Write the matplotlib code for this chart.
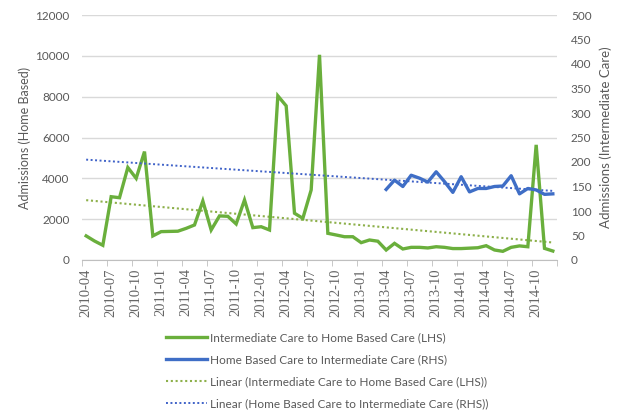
import matplotlib
matplotlib.use('Agg')
import matplotlib.pyplot as plt
import numpy as np

# months 2010-04 .. 2014-12
months = []
for yr in range(2010, 2015):
    for m in range(1, 13):
        if yr == 2010 and m < 4:
            continue
        months.append('%d-%02d' % (yr, m))

# Intermediate Care to Home Based Care (LHS)
ic_to_hb = [1180, 930, 720, 3100, 3050, 4530, 4000, 5310, 1180, 1390,
            1400, 1410, 1550, 1715, 2890, 1470, 2160, 2140, 1765, 2940,
            1585, 1630, 1470, 8040, 7550, 2290, 2040, 3430, 10050, 1307,
            1225, 1140, 1140, 850, 980, 920, 490, 815, 540, 620,
            620, 590, 650, 620, 560, 560, 580, 600, 700, 490,
            425, 620, 690, 650, 5640, 570, 440]

# Home Based Care to Intermediate Care (RHS), from 2013-04
hb_start = 36
hb_to_ic = [144, 163, 150, 173, 167, 159, 180, 160, 138, 170,
            139, 146, 146, 150, 151, 172, 135, 146, 143, 134, 135]

label_green = 'Intermediate Care to Home Based Care (LHS)'
label_blue = 'Home Based Care to Intermediate Care (RHS)'

green = '#6aaf3c'
blue = '#3f6ec6'
grey_txt = '#595959'
lato = 'Lato'

x = np.arange(len(months))
xb = np.arange(hb_start, hb_start + len(hb_to_ic))

# trendlines (linear fits)
pg = np.polyfit(x, ic_to_hb, 1)
pb = np.polyfit(xb, hb_to_ic, 1)

fig = plt.figure(figsize=(6.31, 4.16), dpi=100)
ax = fig.add_axes([82 / 631, 1 - 260 / 416, 475 / 631, 245 / 416])
ax2 = ax.twinx()

l1, = ax.plot(x, ic_to_hb, color=green, lw=2.4, solid_joinstyle='miter', zorder=3)
l3, = ax.plot(x, np.polyval(pg, x), color='#8db04a', lw=1.5, ls=(0, (1, 1.3)), zorder=2)
l2, = ax2.plot(xb, hb_to_ic, color=blue, lw=2.4, zorder=3)
l4, = ax2.plot(x, np.polyval(pb, x), color='#3f62c8', lw=1.4, ls=(0, (1, 1.3)), zorder=2)

ax.set_xlim(-0.5, len(months) - 0.5)
ax.set_ylim(0, 12000)
ax2.set_ylim(0, 500)
ax.set_yticks(np.arange(0, 12001, 2000))
ax2.set_yticks(np.arange(0, 501, 50))
ax.grid(axis='y', color='#d9d9d9', lw=1)
ax.set_axisbelow(True)

ax.set_xticks(x[::3])
ax.set_xticklabels(months[::3], rotation=90, family='Liberation Serif',
                   fontsize=10.5, color='#666666')
ax.set_xticks(np.arange(-0.5, len(months), 3), minor=True)
ax.tick_params(axis='x', which='major', length=0, pad=6)
ax.tick_params(axis='x', which='minor', length=4, color='#bfbfbf')

for a in (ax, ax2):
    for s in a.spines.values():
        s.set_visible(False)
ax.spines['bottom'].set_visible(True)
ax.spines['bottom'].set_color('#bfbfbf')

ax.tick_params(axis='y', length=0, pad=9, labelsize=8.5, labelcolor=grey_txt)
ax2.tick_params(axis='y', length=0, pad=10, labelsize=8.5, labelcolor=grey_txt)
for t in ax.get_yticklabels() + ax2.get_yticklabels():
    t.set_family(lato)

ax.set_ylabel('Admissions (Home Based)', family=lato, fontsize=9, color=grey_txt, labelpad=3)
ax2.set_ylabel('Admissions (Intermediate Care)', family=lato, fontsize=9.5, color=grey_txt, labelpad=6)

leg = fig.legend([l1, l2, l3, l4],
                 [label_green, label_blue, 'Linear (' + label_green + ')', 'Linear (' + label_blue + ')'],
                 loc='upper left', bbox_to_anchor=(160 / 631, 1 - 326 / 416),
                 frameon=False, borderpad=0, handlelength=3.5, handletextpad=0.25,
                 labelspacing=0.95, prop={'family': lato, 'size': 8.5})
for t in leg.get_texts():
    t.set_color(grey_txt)

fig.savefig('out.png', dpi=100)
